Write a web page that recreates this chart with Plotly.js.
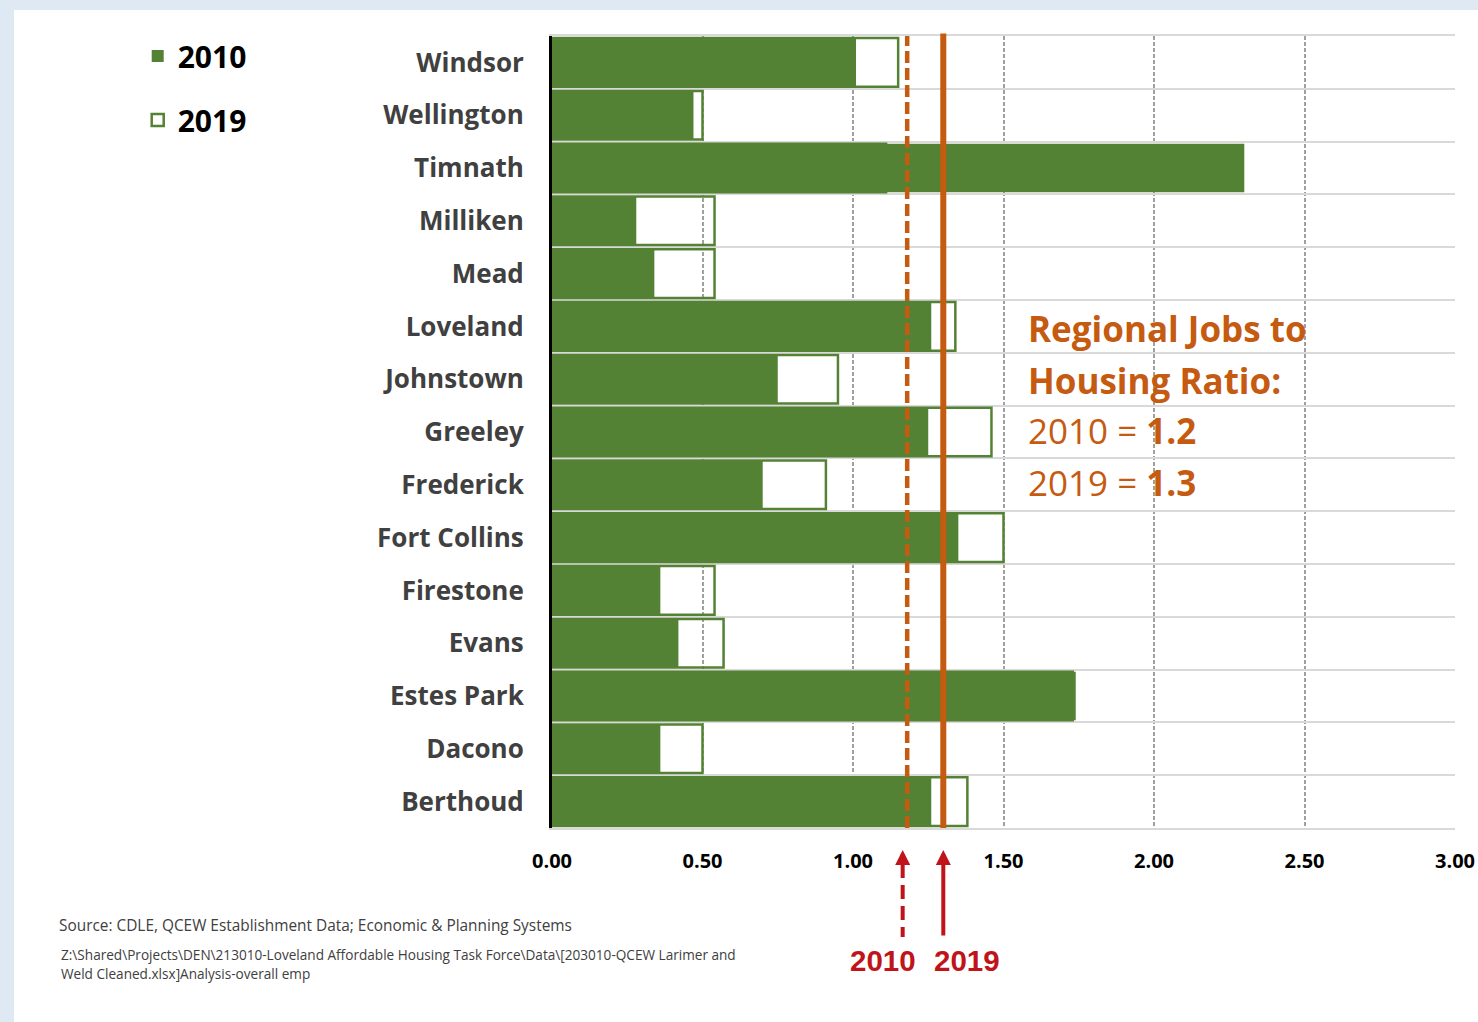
<!DOCTYPE html>
<html>
<head>
<meta charset="utf-8">
<script src="https://cdn.plot.ly/plotly-3.0.1.min.js"></script>
<style>
  html, body { margin: 0; padding: 0; width: 1478px; height: 1022px; overflow: hidden; background: #dfe9f4; }
  #chart { position: absolute; left: 14px; top: 10px; width: 1464px; height: 1012px; background: #ffffff; }
</style>
</head>
<body>
<div id="chart"></div>
<script>
// ---- data ----
const categories = ['Windsor','Wellington','Timnath','Milliken','Mead','Loveland','Johnstown','Greeley','Frederick','Fort Collins','Firestone','Evans','Estes Park','Dacono','Berthoud'];
const ratio2010 = [1.01, 0.47, 2.30, 0.28, 0.34, 1.26, 0.75, 1.25, 0.70, 1.35, 0.36, 0.42, 1.74, 0.36, 1.26];
const ratio2019 = [1.15, 0.50, 1.11, 0.54, 0.54, 1.34, 0.95, 1.46, 0.91, 1.50, 0.54, 0.57, 1.73, 0.50, 1.38];
const seriesNames = ['2010', '2019'];
const regional2010 = 1.18;
const regional2019 = 1.30;
const arrow2010 = 1.165;
const arrow2019 = 1.30;
const xTickVals = [0, 0.5, 1, 1.5, 2, 2.5, 3];
const sourceText = 'Source: CDLE, QCEW Establishment Data; Economic &amp; Planning Systems';
const pathText1 = 'Z:\\Shared\\Projects\\DEN\\213010-Loveland Affordable Housing Task Force\\Data\\[203010-QCEW Larimer and';
const pathText2 = 'Weld Cleaned.xlsx]Analysis-overall emp';

// ---- styles ----
const GREEN = '#548235';
const ORANGE = '#c55a11';
const RED = '#c0141b';
const FONT = 'Open Sans, Lato, sans-serif';

const trace2019 = {
  type: 'bar', orientation: 'h', name: seriesNames[1],
  y: categories, x: ratio2019,
  marker: { color: 'rgba(0,0,0,0)', line: { color: GREEN, width: 2.5 } },
  legendgroup: 'b', legendrank: 2, hoverinfo: 'skip'
};
const trace2010 = {
  type: 'bar', orientation: 'h', name: seriesNames[0],
  y: categories, x: ratio2010,
  marker: { color: GREEN, line: { width: 0 } },
  legendgroup: 'a', legendrank: 1, hoverinfo: 'skip'
};

// plot area pixel helpers (plot area is 903 x 792)
const PW = 903, PH = 792;
const px = p => (p - 552.3) / PW;      // page x -> paper x
const py = p => (828 - p) / PH;        // page y -> paper y
const toPaperX = v => v / 3;           // data value -> paper x (range 0..3)

const bigFont = { family: FONT, size: 35, color: ORANGE };
const annotations = [
  { xref: 'paper', yref: 'paper', x: px(1026), y: py(328), xanchor: 'left', yanchor: 'middle', showarrow: false,
    text: '<b>Regional Jobs to</b>', font: bigFont },
  { xref: 'paper', yref: 'paper', x: px(1026), y: py(380), xanchor: 'left', yanchor: 'middle', showarrow: false,
    text: '<b>Housing Ratio:</b>', font: bigFont },
  { xref: 'paper', yref: 'paper', x: px(1026), y: py(430), xanchor: 'left', yanchor: 'middle', showarrow: false,
    text: seriesNames[0] + ' = <b>' + regional2010.toFixed(1) + '</b>', font: bigFont },
  { xref: 'paper', yref: 'paper', x: px(1026), y: py(482), xanchor: 'left', yanchor: 'middle', showarrow: false,
    text: seriesNames[1] + ' = <b>' + regional2019.toFixed(1) + '</b>', font: bigFont },
  // red arrows
  { xref: 'x', yref: 'paper', x: arrow2019, y: py(850), ax: 0, ay: 87,
    showarrow: true, arrowhead: 2, arrowsize: 0.75, arrowwidth: 4, arrowcolor: RED, text: '' },
  { xref: 'x', yref: 'paper', x: arrow2010, y: py(850), ax: 0, ay: 16,
    showarrow: true, arrowhead: 2, arrowsize: 0.75, arrowwidth: 4, arrowcolor: RED, text: '' },
  // red labels
  { xref: 'paper', yref: 'paper', x: px(883), y: py(961), xanchor: 'center', yanchor: 'middle', showarrow: false,
    text: '<b>' + seriesNames[0] + '</b>', font: { family: 'Liberation Sans, Arial, sans-serif', size: 29.5, color: RED } },
  { xref: 'paper', yref: 'paper', x: px(967.5), y: py(961), xanchor: 'center', yanchor: 'middle', showarrow: false,
    text: '<b>' + seriesNames[1] + '</b>', font: { family: 'Liberation Sans, Arial, sans-serif', size: 29.5, color: RED } },
  // source
  { xref: 'paper', yref: 'paper', x: px(57), y: py(925), xanchor: 'left', yanchor: 'middle', showarrow: false,
    text: sourceText, font: { family: FONT, size: 15.4, color: '#404040' } },
  { xref: 'paper', yref: 'paper', x: px(59), y: py(954), xanchor: 'left', yanchor: 'middle', showarrow: false,
    text: pathText1, font: { family: FONT, size: 13.6, color: '#404040' } },
  { xref: 'paper', yref: 'paper', x: px(59), y: py(974), xanchor: 'left', yanchor: 'middle', showarrow: false,
    text: pathText2, font: { family: FONT, size: 13.6, color: '#404040' } }
];

const shapes = [
  { type: 'line', xref: 'x', yref: 'paper', x0: regional2010, x1: regional2010, y0: 0, y1: 1,
    line: { color: ORANGE, width: 4.5, dash: '12px,5px' } },
  { type: 'line', xref: 'x', yref: 'paper', x0: regional2019, x1: regional2019, y0: 0, y1: 1.003,
    line: { color: ORANGE, width: 6 } },
  // dashed shaft of the 2010 arrow
  { type: 'line', xref: 'paper', yref: 'paper', x0: toPaperX(arrow2010), x1: toPaperX(arrow2010), y0: py(864), y1: py(937),
    line: { color: RED, width: 4, dash: '14px,7px' } }
];

const layout = {
  width: 1464, height: 1012,
  margin: { l: 538, r: 23, t: 26, b: 194, pad: 0 },
  paper_bgcolor: '#ffffff', plot_bgcolor: '#ffffff',
  barmode: 'overlay', bargap: 0.08,
  showlegend: true,
  legend: {
    x: px(138), y: py(30), xanchor: 'left', yanchor: 'top',
    font: { family: FONT, size: 30, color: '#000000', weight: 'bold' },
    traceorder: 'grouped', tracegroupgap: 22, bgcolor: 'rgba(0,0,0,0)'
  },
  xaxis: {
    range: [0, 3], tickvals: xTickVals, tickformat: '.2f',
    showgrid: true, gridcolor: '#a0a0a0', gridwidth: 2, griddash: '4px,2px',
    zeroline: false,
    showline: true, mirror: true, linecolor: '#d9d9d9', linewidth: 2,
    ticks: '', ticklabelstandoff: 14,
    tickfont: { family: FONT, size: 20, color: '#000000', weight: 'bold' },
    fixedrange: true
  },
  yaxis: {
    type: 'category', autorange: 'reversed',
    tickson: 'boundaries', showgrid: true, gridcolor: '#d9d9d9', gridwidth: 2,
    showline: true, linecolor: '#000000', linewidth: 3,
    ticks: '', ticklabelstandoff: 20,
    tickfont: { family: FONT, size: 26, color: '#404040', weight: 'bold' },
    fixedrange: true
  },
  shapes: shapes,
  annotations: annotations
};

Plotly.newPlot('chart', [trace2019, trace2010], layout, { displayModeBar: false, staticPlot: true });
</script>
</body>
</html>
